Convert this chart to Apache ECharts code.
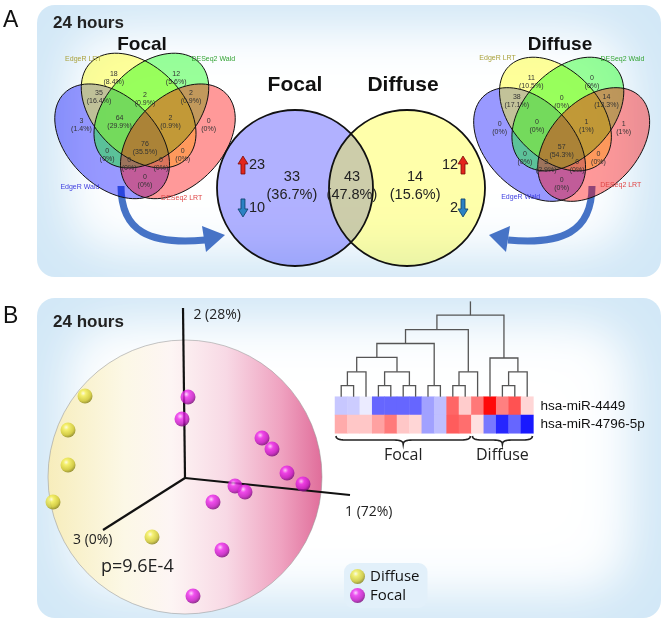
<!DOCTYPE html>
<html>
<head>
<meta charset="utf-8">
<script src="https://cdn.jsdelivr.net/npm/echarts@6.0.0/dist/echarts.min.js"></script>
<style>
html,body{margin:0;padding:0;background:#ffffff;}
#chart{width:665px;height:626px;}
</style>
</head>
<body>
<div id="chart"></div>
<script>
// ================= DATA =================
const bigVennNames = ['Focal', 'Diffuse'];
const bigVennCounts = [33, 43, 14];                 // Focal only, shared, Diffuse only
const bigVennPercents = ['36.7%', '47.8%', '15.6%'];
const focalUpDown = [23, 10];
const diffuseUpDown = [12, 2];

const methodNames = ['EdgeR Wald', 'EdgeR LRT', 'DESeq2 Wald', 'DESeq2 LRT'];
// regions: LRT, DWald, Wald&LRT, LRT&DWald, DWald&DLRT, Wald, Wald&LRT&DWald, LRT&DWald&DLRT,
//          DLRT, all, Wald&DWald, LRT&DLRT, Wald&DWald&DLRT, Wald&LRT&DLRT, Wald&DLRT
const focalVennCounts   = [18, 12, 35, 2, 2, 3, 64, 2, 0, 76, 0, 0, 0, 0, 0];
const focalVennPercents = ['8.4%', '5.6%', '16.4%', '0.9%', '0.9%', '1.4%', '29.9%', '0.9%', '0%', '35.5%', '0%', '0%', '0%', '0%', '0%'];
const diffuseVennCounts   = [11, 0, 38, 0, 14, 0, 0, 1, 1, 57, 0, 0, 3, 0, 0];
const diffuseVennPercents = ['10.5%', '0%', '17.1%', '0%', '13.3%', '0%', '0%', '1%', '1%', '54.3%', '0%', '0%', '2.9%', '0%', '0%'];

const pcaAxisLabels = ['1 (72%)', '2 (28%)', '3 (0%)'];
const pValueLabel = 'p=9.6E-4';
const diffuseX = [-5.0, -5.85, -5.85, -6.6, -1.65];
const diffuseY = [4.1, 2.4, 0.65, -1.2, -2.95];
const focalX = [0.15, -0.15, 3.85, 4.35, 5.1, 5.9, 2.5, 3.0, 1.4, 1.85, 0.4];
const focalY = [4.05, 2.95, 2.0, 1.45, 0.25, -0.3, -0.4, -0.7, -1.2, -3.6, -5.9];

const heatGenes = ['hsa-miR-4449', 'hsa-miR-4796-5p'];
const heatSamples = ['F1','F2','F3','F4','F5','F6','F7','F8','F9','F10','F11','D1','D2','D3','D4','D5'];
const mir4449 = [-0.22, -0.2, -0.08, -0.6, -0.6, -0.6, -0.6, -0.37, -0.25, 0.6, 0.2, 0.53, 0.96, 0.5, 0.68, 0.16];
const mir4796 = [0.33, 0.22, 0.22, 0.37, 0.52, 0.22, 0.16, -0.37, -0.25, 0.64, 0.57, 0.12, -0.53, -0.85, -0.6, -0.9];
const groupNames = ['Focal', 'Diffuse'];
const groupSizes = [11, 5];
// dendrogram merges: [childA, childB, height]; leaves 0..15, new nodes 16..
const dendroMerges = [
  [0, 1, 0.8], [16, 2, 1.8], [3, 4, 0.8], [5, 6, 0.8], [18, 19, 1.8], [17, 20, 2.85],
  [7, 8, 0.8], [21, 22, 3.85], [9, 10, 0.8], [24, 11, 1.8], [23, 25, 4.85],
  [13, 14, 0.8], [27, 15, 1.8], [12, 28, 2.8], [26, 29, 5.9]
];
const dendroRootTop = 6.9;

// ================= LAYOUT (positions / sizes / styles) =================
const FONT = '"Liberation Sans", Arial, sans-serif';
const FONT2 = '"Open Sans", "Liberation Sans", sans-serif';
const GRIDS = [
  {left: 61, top: 71, width: 546, height: 234, x: [-3, 4], y: [-1.5, 1.5]},      // 0 big venn
  {left: 39, top: 22.6, width: 212, height: 212, x: [0, 1], y: [0, 1]},         // 1 focal quad venn
  {left: 458.3, top: 26.9, width: 210, height: 210, x: [0, 1], y: [0, 1]},      // 2 diffuse quad venn
  {left: 25, top: 298, width: 340, height: 320, x: [-8, 9], y: [-7, 9]},        // 3 pca
  {left: 335, top: 300, width: 198.4, height: 96.7, x: [-0.5, 15.5], y: [0, 7]}, // 4 dendrogram
  {left: 335, top: 396.7, width: 198.4, height: 36.6},                          // 5 heatmap
  {left: 335, top: 434, width: 198.4, height: 30, x: [-0.5, 15.5], y: [0, 1]}   // 6 braces
];
const BIG = {
  centers: [[0, 0], [1.436, 0]], r: 1,
  fills: ['rgba(40,40,255,0.36)', 'rgba(255,255,20,0.36)'],
  titles: [[0, 1.32], [1.385, 1.32]],
  labels: [[-0.04, 0.03], [0.73, 0.03], [1.54, 0.03]],
  focal: {arrowX: -0.667, textX: -0.59, up: 0.295, down: -0.256},
  diffuse: {arrowX: 2.154, textX: 2.09, up: 0.295, down: -0.256}
};
const QUAD = {
  ellipses: [[0.345, 0.44, -45], [0.47, 0.585, -45], [0.53, 0.585, 45], [0.655, 0.44, 45]],
  a: 0.32, b: 0.21,
  fills: ['rgba(0,0,255,0.4)', 'rgba(255,255,0,0.4)', 'rgba(0,255,0,0.4)', 'rgba(255,0,0,0.4)'],
  labelColors: ['#3d3de0', '#aaa23c', '#35a435', '#e04545'],
  regionPos: [[0.353, 0.738], [0.647, 0.738], [0.283, 0.648], [0.5, 0.64], [0.717, 0.648],
              [0.2, 0.517], [0.38, 0.529], [0.62, 0.529], [0.8, 0.517], [0.5, 0.41],
              [0.322, 0.375], [0.678, 0.375], [0.425, 0.335], [0.575, 0.335], [0.5, 0.252]]
};
const QUAD_F = {title: [0.486, 0.894], setPos: [[0.193, 0.226], [0.209, 0.827], [0.822, 0.827], [0.673, 0.171]]};
const QUAD_D = {title: [0.492, 0.914], setPos: [[0.302, 0.191], [0.19, 0.85], [0.794, 0.846], [0.786, 0.247]]};
const PCA = {
  sphere: {c: [0, 0.05], r: 6.85},
  axisEnds: [[8.25, -0.85], [-0.1, 8.5], [-4.1, -2.6]],
  axisLabelPos: [[8.0, -1.7], [0.42, 8.15], [-5.6, -3.1]],
  pPos: [-4.2, -4.45]
};

// ================= HELPERS =================
function txt(x, y, s, font, extra) {
  return {type: 'text', x: x, y: y, silent: true,
    style: Object.assign({text: s, fill: '#222', font: font, align: 'center', verticalAlign: 'middle',
      textAlign: 'center', textVerticalAlign: 'middle'}, extra || {})};
}
function ellipsePts(api, cx, cy, a, b, rotDeg) {
  const pts = [], t = rotDeg * Math.PI / 180;
  for (let i = 0; i < 90; i++) {
    const th = i / 90 * 2 * Math.PI;
    const ex = a * Math.cos(th), ey = b * Math.sin(th);
    pts.push(api.coord([cx + ex * Math.cos(t) - ey * Math.sin(t), cy + ex * Math.sin(t) + ey * Math.cos(t)]));
  }
  return pts;
}
function arrowPts(cx, cy, up) {
  const d = up ? 1 : -1;
  const p = [[0, -9], [5, -1], [2, -1], [2, 9], [-2, 9], [-2, -1], [-5, -1]];
  return p.map(q => [cx + q[0], cy + d * q[1]]);
}
function quadPts(p0, p1, p2, n) {
  const out = [];
  for (let i = 0; i <= n; i++) {
    const t = i / n, u = 1 - t;
    out.push([u * u * p0[0] + 2 * u * t * p1[0] + t * t * p2[0], u * u * p0[1] + 2 * u * t * p1[1] + t * t * p2[1]]);
  }
  return out;
}

// ---- dendrogram geometry derived from merges ----
const nodeX = [], nodeH = [];
for (let i = 0; i < heatSamples.length; i++) { nodeX[i] = i; nodeH[i] = 0; }
const dendroSegs = dendroMerges.map((m, k) => {
  const id = heatSamples.length + k;
  nodeX[id] = (nodeX[m[0]] + nodeX[m[1]]) / 2; nodeH[id] = m[2];
  return [nodeX[m[0]], nodeH[m[0]], nodeX[m[1]], nodeH[m[1]], m[2]];
});
const rootId = heatSamples.length + dendroMerges.length - 1;
dendroSegs.push([nodeX[rootId], nodeH[rootId], nodeX[rootId], dendroRootTop, dendroRootTop]);

// ---- heatmap data ----
const heatRows = [mir4449, mir4796];
const heatData = [];
heatRows.forEach((row, r) => row.forEach((v, c) => heatData.push([c, r, v])));

// ---- brace ranges ----
const braceData = [];
let start = -0.5;
groupSizes.forEach((n, i) => { braceData.push([start, start + n, groupNames[i]]); start += n; });

// ================= SERIES =================
function quadVennSeries(gi, counts, pcts, title, lay) {
  return {
    type: 'custom', xAxisIndex: gi, yAxisIndex: gi, clip: false, silent: true, z: 3,
    data: [[0.5, 0.5]],
    renderItem: function (params, api) {
      const ch = [];
      const polys = QUAD.ellipses.map(e => ellipsePts(api, e[0], e[1], QUAD.a, QUAD.b, e[2]));
      polys.forEach((p, i) => ch.push({type: 'polygon', shape: {points: p}, style: {fill: QUAD.fills[i], stroke: 'none'}}));
      polys.forEach(p => ch.push({type: 'polygon', shape: {points: p}, style: {fill: 'none', stroke: '#111', lineWidth: 1}}));
      counts.forEach((c, i) => {
        const pt = api.coord(QUAD.regionPos[i]);
        ch.push(txt(pt[0], pt[1], c + '\n(' + pcts[i] + ')', '7px ' + FONT, {lineHeight: 8, fill: '#333'}));
      });
      methodNames.forEach((m, i) => {
        const pt = api.coord(lay.setPos[i]);
        ch.push(txt(pt[0], pt[1], m, '7px ' + FONT, {fill: QUAD.labelColors[i]}));
      });
      const tp = api.coord(lay.title);
      ch.push(txt(tp[0], tp[1], title, 'bold 19px ' + FONT, {fill: '#111'}));
      return {type: 'group', children: ch};
    }
  };
}

const bigVennSeries = {
  type: 'custom', xAxisIndex: 0, yAxisIndex: 0, clip: false, silent: true, z: 5,
  data: [[0, 0]],
  renderItem: function (params, api) {
    const ch = [];
    const rr = api.size([BIG.r, 0])[0];
    const cs = BIG.centers.map(c => api.coord(c));
    cs.forEach((c, i) => ch.push({type: 'circle', shape: {cx: c[0], cy: c[1], r: rr}, style: {fill: BIG.fills[i], stroke: 'none'}}));
    cs.forEach(c => ch.push({type: 'circle', shape: {cx: c[0], cy: c[1], r: rr}, style: {fill: 'none', stroke: '#111', lineWidth: 1.8}}));
    bigVennNames.forEach((n, i) => {
      const p = api.coord(BIG.titles[i]);
      ch.push(txt(p[0], p[1], n, 'bold 21px ' + FONT, {fill: '#111'}));
    });
    bigVennCounts.forEach((c, i) => {
      const p = api.coord(BIG.labels[i]);
      ch.push(txt(p[0], p[1], c + '\n(' + bigVennPercents[i] + ')', '14.5px ' + FONT, {lineHeight: 18, fill: '#222'}));
    });
    const sets = [[BIG.focal, focalUpDown, 'left'], [BIG.diffuse, diffuseUpDown, 'right']];
    sets.forEach(s => {
      const L = s[0];
      [[L.up, s[1][0], true], [L.down, s[1][1], false]].forEach(a => {
        const ap = api.coord([L.arrowX, a[0]]);
        const tp = api.coord([L.textX, a[0]]);
        ch.push({type: 'polygon', shape: {points: arrowPts(ap[0], ap[1], a[2])},
          style: {fill: a[2] ? '#e3251c' : '#2c82c4', stroke: a[2] ? '#7a0c08' : '#0d3d66', lineWidth: 0.8}});
        ch.push(txt(tp[0], tp[1], String(a[1]), '14.5px ' + FONT, {align: s[2], textAlign: s[2], fill: '#222'}));
      });
    });
    return {type: 'group', children: ch};
  }
};

const sphereSeries = {
  type: 'custom', xAxisIndex: 3, yAxisIndex: 3, clip: false, silent: true, z: 1,
  data: [PCA.sphere.c],
  renderItem: function (params, api) {
    const c = api.coord(PCA.sphere.c);
    const r = api.size([PCA.sphere.r, 0])[0];
    return {type: 'circle', shape: {cx: c[0], cy: c[1], r: r},
      style: {
        fill: {type: 'linear', x: 0, y: 0, x2: 1, y2: 0, colorStops: [
          {offset: 0, color: '#f7edbb'}, {offset: 0.28, color: '#fcf8e6'}, {offset: 0.45, color: '#fdf5f4'},
          {offset: 0.65, color: '#f8d9e5'}, {offset: 0.85, color: '#efa2c0'}, {offset: 1, color: '#e06d9a'}]},
        stroke: 'rgba(150,150,150,0.55)', lineWidth: 1
      }};
  }
};

const pcaAxesSeries = {
  type: 'custom', xAxisIndex: 3, yAxisIndex: 3, clip: false, silent: true, z: 2,
  data: [[0, 0]],
  renderItem: function (params, api) {
    const o = api.coord([0, 0]);
    const ch = [];
    PCA.axisEnds.forEach((e, i) => {
      const p = api.coord(e);
      ch.push({type: 'line', shape: {x1: o[0], y1: o[1], x2: p[0], y2: p[1]}, style: {stroke: '#111', lineWidth: 2.2}});
      const lp = api.coord(PCA.axisLabelPos[i]);
      ch.push(txt(lp[0], lp[1], pcaAxisLabels[i], '14px ' + FONT2, {align: 'left', textAlign: 'left', fill: '#222'}));
    });
    const pp = api.coord(PCA.pPos);
    ch.push(txt(pp[0], pp[1], pValueLabel, '18px ' + FONT2, {align: 'left', textAlign: 'left', fill: '#222'}));
    return {type: 'group', children: ch};
  }
};

const yellowBall = {type: 'radial', x: 0.38, y: 0.32, r: 0.72, colorStops: [
  {offset: 0, color: '#fffde6'}, {offset: 0.25, color: '#f3ef55'}, {offset: 0.7, color: '#ccc52a'}, {offset: 1, color: '#7a7510'}]};
const magentaBall = {type: 'radial', x: 0.38, y: 0.32, r: 0.72, colorStops: [
  {offset: 0, color: '#ffd0ff'}, {offset: 0.28, color: '#ef2bef'}, {offset: 0.7, color: '#c312c3'}, {offset: 1, color: '#6c066c'}]};

const dendroSeries = {
  type: 'custom', xAxisIndex: 4, yAxisIndex: 4, clip: false, silent: true, z: 3,
  data: dendroSegs,
  renderItem: function (params, api) {
    const a0 = api.coord([api.value(0), api.value(1)]);
    const a1 = api.coord([api.value(0), api.value(4)]);
    const b1 = api.coord([api.value(2), api.value(4)]);
    const b0 = api.coord([api.value(2), api.value(3)]);
    return {type: 'polyline', shape: {points: [a0, a1, b1, b0]}, style: {stroke: '#555', lineWidth: 1.3, fill: 'none'}};
  }
};

const braceSeries = {
  type: 'custom', xAxisIndex: 6, yAxisIndex: 6, clip: false, silent: true, z: 3,
  data: braceData,
  renderItem: function (params, api) {
    const x1 = api.coord([api.value(0), 0])[0] + 1;
    const x2 = api.coord([api.value(1), 0])[0] - 1;
    const y0 = api.coord([0, 0])[1] + 2;
    const xm = (x1 + x2) / 2, q = 4, r = 9;
    let pts = [];
    pts = pts.concat(quadPts([x1, y0], [x1, y0 + q], [x1 + r, y0 + q], 8));
    pts = pts.concat(quadPts([xm - r, y0 + q], [xm, y0 + q], [xm, y0 + 2 * q], 8));
    pts = pts.concat(quadPts([xm, y0 + 2 * q], [xm, y0 + q], [xm + r, y0 + q], 8));
    pts = pts.concat(quadPts([x2 - r, y0 + q], [x2, y0 + q], [x2, y0], 8));
    return {type: 'group', children: [
      {type: 'polyline', shape: {points: pts}, style: {stroke: '#222', lineWidth: 1.7, fill: 'none'}},
      txt(xm, y0 + 19, api.value(2), '16px ' + FONT2, {fill: '#222'})
    ]};
  }
};

// ================= AXES =================
const xAxes = [], yAxes = [];
GRIDS.forEach((g, i) => {
  if (i === 5) {
    xAxes.push({gridIndex: i, type: 'category', data: heatSamples, show: false});
    yAxes.push({gridIndex: i, type: 'category', data: heatGenes, inverse: true, position: 'right',
      axisLine: {show: false}, axisTick: {show: false}, splitLine: {show: false},
      axisLabel: {show: true, fontSize: 13.5, fontFamily: FONT, color: '#111', margin: 7}});
  } else {
    xAxes.push({gridIndex: i, type: 'value', min: g.x[0], max: g.x[1], show: false});
    yAxes.push({gridIndex: i, type: 'value', min: g.y[0], max: g.y[1], show: false, inverse: i === 6});
  }
});

// ================= DECORATION =================
function panel(x, y, w, h) {
  const off = 4000;
  return {type: 'group', silent: true, children: [
    {type: 'rect', shape: {x: x, y: y, width: w, height: h, r: 18}, style: {fill: '#d2e8f7'}},
    {type: 'rect', shape: {x: x + 42 - off, y: y + 36, width: w - 84, height: h - 72, r: 30},
      style: {fill: '#ffffff', shadowBlur: 70, shadowColor: '#ffffff', shadowOffsetX: off, shadowOffsetY: 0}},
    {type: 'rect', shape: {x: x + 42 - off, y: y + 36, width: w - 84, height: h - 72, r: 30},
      style: {fill: '#ffffff', shadowBlur: 40, shadowColor: 'rgba(255,255,255,0.8)', shadowOffsetX: off, shadowOffsetY: 0}}
  ]};
}
const arrowBlue = '#4673c6';

const option = {
  animation: false,
  backgroundColor: '#ffffff',
  textStyle: {fontFamily: FONT},
  grid: GRIDS.map(g => ({left: g.left, top: g.top, width: g.width, height: g.height, containLabel: false})),
  xAxis: xAxes,
  yAxis: yAxes,
  visualMap: {type: 'continuous', show: false, min: -1, max: 1, seriesIndex: 7,
    inRange: {color: ['#0000ff', '#ffffff', '#ff0000']}},
  legend: {
    data: ['Diffuse', 'Focal'], orient: 'vertical', left: 344, top: 563,
    backgroundColor: '#e2f0fa', borderRadius: 9, padding: [6, 8, 5, 6], itemGap: 4,
    itemWidth: 15, itemHeight: 15, icon: 'circle', selectedMode: false,
    textStyle: {fontSize: 15, fontFamily: FONT2, color: '#111'}
  },
  graphic: [
    panel(37, 5, 624, 272),
    panel(37, 298, 624, 320),
    {type: 'bezierCurve', silent: true, shape: {x1: 121, y1: 186, cpx1: 121, cpy1: 232, cpx2: 150, cpy2: 245, x2: 205, y2: 240},
      style: {stroke: arrowBlue, lineWidth: 7, fill: 'none'}},
    {type: 'polygon', silent: true, shape: {points: [[225, 235], [202, 226], [206, 252]]}, style: {fill: arrowBlue}},
    {type: 'bezierCurve', silent: true, shape: {x1: 592, y1: 186, cpx1: 592, cpy1: 232, cpx2: 562, cpy2: 245, x2: 508, y2: 240},
      style: {stroke: arrowBlue, lineWidth: 7, fill: 'none'}},
    {type: 'polygon', silent: true, shape: {points: [[489, 235], [510, 226], [506, 252]]}, style: {fill: arrowBlue}},
    {type: 'text', silent: true, x: 3, y: 9, style: {text: 'A', font: '23px ' + FONT, fill: '#111'}},
    {type: 'text', silent: true, x: 3, y: 305, style: {text: 'B', font: '23px ' + FONT, fill: '#111'}},
    {type: 'text', silent: true, x: 53, y: 15, style: {text: '24 hours', font: 'bold 17px ' + FONT, fill: '#222'}},
    {type: 'text', silent: true, x: 53, y: 314, style: {text: '24 hours', font: 'bold 17px ' + FONT, fill: '#222'}}
  ],
  series: [
    bigVennSeries,                                                         // 0
    quadVennSeries(1, focalVennCounts, focalVennPercents, 'Focal', QUAD_F),  // 1
    quadVennSeries(2, diffuseVennCounts, diffuseVennPercents, 'Diffuse', QUAD_D), // 2
    sphereSeries,                                                          // 3
    pcaAxesSeries,                                                         // 4
    {name: 'Diffuse', type: 'scatter', xAxisIndex: 3, yAxisIndex: 3, z: 4, symbolSize: 15,
      itemStyle: {color: yellowBall}, data: diffuseX.map((x, i) => [x, diffuseY[i]]), silent: true},   // 5
    {name: 'Focal', type: 'scatter', xAxisIndex: 3, yAxisIndex: 3, z: 4, symbolSize: 15,
      itemStyle: {color: magentaBall}, data: focalX.map((x, i) => [x, focalY[i]]), silent: true},      // 6
    {type: 'heatmap', xAxisIndex: 5, yAxisIndex: 5, data: heatData, silent: true,
      itemStyle: {borderWidth: 0}, emphasis: {disabled: true}},            // 7
    dendroSeries,                                                          // 8
    braceSeries                                                            // 9
  ]
};

const chart = echarts.init(document.getElementById('chart'), null, {renderer: 'canvas', width: 665, height: 626});
chart.setOption(option);
</script>
</body>
</html>
